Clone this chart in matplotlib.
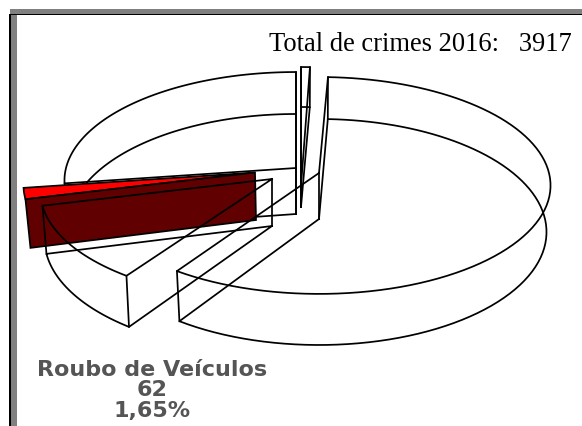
import numpy as np
import matplotlib
matplotlib.use("Agg")
import matplotlib.pyplot as plt
from matplotlib.patches import Polygon, Rectangle

# Data: crime counts (clockwise from the top)
categories = ["Outros A", "Outros B", "Outros C", "Roubo de Veículos", "Outros D"]
values = [26, 2207, 438, 62, 1024]
title_text = "Total de crimes 2016:   3917"
label_lines = ["Roubo de Veículos", "62", "1,65%"]

# Layout (pixels): rim centres, radial tips of every exploded slice
top_hub = [(301, 163), (319, 173), (272, 179), (255, 172.5), (296, 168)]
top_tip = [(301, 186), (319, 173), (272, 179), (255, 172.5), (296, 168)]
bot_hub = [(301, 207), (319, 219), (272, 226), (256, 220), (296, 214)]
start_gap = [0, 0, 1.0, 0, 0]
TOP_A, TOP_B = 230.0, 107.0
BOT_A, BOT_B = 226.0, 111.5
K = 0.115
LW = 1.25

W, H = 582, 426
fig = plt.figure(figsize=(W / 100, H / 100), dpi=100)
ax = fig.add_axes([0, 0, 1, 1])
ax.set_xlim(0, W)
ax.set_ylim(H, 0)
ax.axis("off")

shares = np.array(values, dtype=float) / sum(values) * 360.0
edges = np.concatenate([[0.0], np.cumsum(shares)])


def rim(hub, a, b, t0, t1, n=90):
    t = np.radians(np.linspace(t0, t1, n))
    X, Y = np.sin(t), np.cos(t)
    w = 1 + K * Y
    return hub[0] + a * X / w, hub[1] - b * Y / w


def wire(i, zorder):
    t0, t1 = edges[i] + start_gap[i], edges[i + 1]
    tx, ty = rim(top_hub[i], TOP_A, TOP_B, t0, t1)
    bx, by = rim(bot_hub[i], BOT_A, BOT_B, t0, t1)
    kw = dict(color="black", lw=LW, zorder=zorder, solid_joinstyle="round")
    tip = top_tip[i]
    ax.plot(np.r_[tip[0], tx, tip[0]], np.r_[tip[1], ty, tip[1]], **kw)
    ax.plot(np.r_[bot_hub[i][0], bx, bot_hub[i][0]], np.r_[bot_hub[i][1], by, bot_hub[i][1]], **kw)
    for p, q in [((tx[0], ty[0]), (bx[0], by[0])), ((tx[-1], ty[-1]), (bx[-1], by[-1])),
                 (tip, bot_hub[i])]:
        ax.plot([p[0], q[0]], [p[1], q[1]], **kw)


# Back slice and sliver sit behind the highlighted one
wire(4, 2)
wire(0, 2)

# Highlighted slice: red top face and dark radial wall
i = 3
tx, ty = rim(top_hub[i], TOP_A, TOP_B, edges[i], edges[i + 1])
bx, by = rim(bot_hub[i], BOT_A, BOT_B, edges[i], edges[i + 1])
ax.add_patch(Polygon(np.c_[np.r_[top_hub[i][0], tx], np.r_[top_hub[i][1], ty]], closed=True,
                     fc="#ff0000", ec="black", lw=LW, zorder=3))
ax.add_patch(Polygon([top_hub[i], (tx[0], ty[0]), (bx[0], by[0]), bot_hub[i]], closed=True,
                     fc="#600000", ec="black", lw=LW, zorder=4))

# Front slices are drawn over it
wire(2, 5)
wire(1, 5)

# Frame
ax.add_patch(Rectangle((10, 9), W - 10, 5, fc="#808080", ec="none", zorder=6))
ax.add_patch(Rectangle((11, 14), 6, H - 14, fc="#808080", ec="none", zorder=6))
ax.add_patch(Rectangle((9, 14), W - 9, 1.3, fc="black", ec="none", zorder=7))
ax.add_patch(Rectangle((9, 14), 2, H - 14, fc="black", ec="none", zorder=7))

# Texts
ax.text(572, 44.5, title_text, ha="right", va="center", fontsize=19.1,
        family="Liberation Serif", color="black", zorder=8)
for line, y in zip(label_lines, [370, 390, 411]):
    ax.text(152, y, line, ha="center", va="center", fontsize=16, fontweight="bold",
            family="DejaVu Sans", color="#555555", zorder=8)

fig.savefig("out.png", dpi=100, facecolor="white")
